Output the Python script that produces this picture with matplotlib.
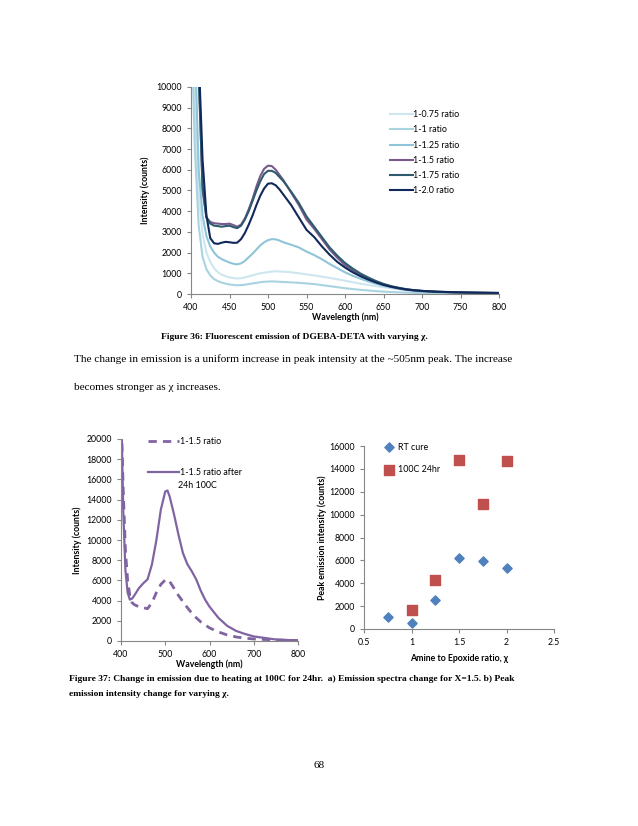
import matplotlib
matplotlib.use("Agg")
import matplotlib.pyplot as plt

# ---- Figure 36 spectra (wavelength nm, counts)
wl1 = [400, 405, 410, 415, 420, 425, 430, 435, 440, 445, 450, 455, 460, 465,
       470, 475, 480, 485, 490, 495, 500, 505, 510, 515, 520, 530, 540, 550,
       560, 570, 580, 590, 600, 610, 620, 630, 640, 650, 660, 670, 680, 690,
       700, 720, 740, 760, 780, 800]
r075 = [16000, 9000, 4800, 2900, 2000, 1550, 1250, 1050, 930, 860, 800, 770,
        750, 760, 800, 850, 900, 960, 1000, 1030, 1060, 1080, 1100, 1090, 1080,
        1050, 1000, 950, 900, 840, 780, 710, 640, 570, 500, 440, 380, 330, 280,
        230, 190, 160, 130, 100, 80, 60, 45, 35]
r100 = [14000, 7000, 3300, 1800, 1200, 900, 720, 620, 550, 500, 460, 440, 420,
        430, 450, 480, 510, 540, 570, 590, 600, 610, 600, 590, 580, 560, 540,
        510, 480, 430, 380, 330, 280, 240, 200, 170, 140, 115, 95, 80, 65, 55,
        45, 35, 30, 25, 20, 20]
r125 = [22000, 12000, 6000, 3800, 2800, 2300, 2000, 1800, 1680, 1600, 1520,
        1460, 1430, 1480, 1600, 1780, 1950, 2150, 2350, 2500, 2600, 2650, 2640,
        2580, 2500, 2380, 2250, 2050, 1880, 1680, 1450, 1250, 1050, 880, 740,
        610, 500, 400, 320, 250, 190, 150, 120, 85, 65, 50, 40, 30]
r150 = [60000, 25000, 11000, 5000, 3700, 3480, 3420, 3400, 3380, 3380, 3400,
        3330, 3250, 3350, 3650, 4100, 4600, 5200, 5700, 6050, 6200, 6180, 6000,
        5750, 5500, 4900, 4300, 3600, 3150, 2650, 2150, 1750, 1400, 1150, 920,
        740, 580, 450, 350, 270, 210, 170, 140, 100, 80, 65, 55, 45]
r175 = [55000, 24000, 10500, 5200, 3700, 3400, 3300, 3280, 3250, 3280, 3300,
        3230, 3180, 3300, 3600, 4000, 4500, 5000, 5450, 5800, 5950, 5950, 5850,
        5650, 5450, 4950, 4400, 3750, 3250, 2750, 2250, 1850, 1500, 1230, 990,
        800, 630, 490, 380, 300, 230, 185, 150, 110, 85, 70, 60, 50]
r200 = [60000, 25000, 11500, 6500, 3800, 2700, 2450, 2420, 2480, 2520, 2500,
        2470, 2480, 2650, 2950, 3350, 3800, 4300, 4750, 5100, 5330, 5350, 5250,
        5050, 4800, 4300, 3700, 3100, 2750, 2300, 1900, 1550, 1280, 1050, 860,
        700, 560, 440, 350, 280, 220, 180, 150, 110, 90, 70, 60, 50]
labels1 = ["1-0.75 ratio", "1-1 ratio", "1-1.25 ratio", "1-1.5 ratio",
           "1-1.75 ratio", "1-2.0 ratio"]
colors1 = ["#cde6ef", "#a9d3e0", "#8ec5d8", "#7a5a8e", "#2e5c6c", "#10295a"]

# ---- Figure 37a spectra before / after heating
wl2 = [400, 402, 405, 410, 415, 420, 425, 430, 440, 450, 460, 470, 480, 490,
       500, 505, 510, 520, 530, 540, 550, 560, 570, 580, 590, 600, 620, 640,
       660, 680, 700, 750, 800]
before = [21000, 19800, 15000, 9000, 6000, 4500, 3800, 3600, 3400, 3300, 3200,
          3800, 4800, 5600, 6050, 6100, 5900, 5200, 4500, 3900, 3300, 2750,
          2300, 1900, 1600, 1300, 900, 600, 400, 280, 200, 100, 50]
after = [21000, 19800, 13000, 7000, 4800, 4100, 4200, 4500, 5200, 5700, 6100,
         7600, 10000, 13000, 14800, 14900, 14300, 12500, 10500, 8700, 7600,
         6900, 6100, 5000, 4100, 3400, 2300, 1500, 1000, 700, 450, 150, 50]
legend2 = ["1-1.5 ratio", "1-1.5 ratio after"]
legend2_extra = "24h 100C"

# ---- Figure 37b peak intensity vs ratio
chi_rt = [0.75, 1.0, 1.25, 1.5, 1.75, 2.0]
peak_rt = [1050, 550, 2550, 6200, 5950, 5300]
chi_hot = [1.0, 1.25, 1.5, 1.75, 2.0]
peak_hot = [1700, 4300, 14800, 10900, 14700]

W, H = 638, 826
SANS = ["Lato", "DejaVu Sans"]
SERIF = ["Liberation Serif", "DejaVu Serif"]
GREY = "#868686"
TICK_FS = 6.3
LAB_FS = 6.3
LEG_FS = 6.4


def px_axes(fig, l, t, r, b):
    return fig.add_axes([l / W, 1 - b / H, (r - l) / W, (b - t) / H])


def excel_style(ax):
    for s in ("top", "right"):
        ax.spines[s].set_visible(False)
    for s in ("left", "bottom"):
        ax.spines[s].set_color(GREY)
        ax.spines[s].set_linewidth(0.8)
    ax.tick_params(direction="out", length=3, width=0.8, color=GREY,
                   labelsize=TICK_FS, pad=3.5)
    for lab in ax.get_xticklabels() + ax.get_yticklabels():
        lab.set_family(SANS)


fig = plt.figure(figsize=(W / 100, H / 100), dpi=100)

# ---------------- Figure 36
ax1 = px_axes(fig, 191, 87, 499, 294)
for y, lab, c in zip([r075, r100, r125, r150, r175, r200], labels1, colors1):
    ax1.plot(wl1, y, color=c, lw=1.5, label=lab)
ax1.set_xlim(400, 800)
ax1.set_ylim(0, 10000)
ax1.set_xticks(range(400, 801, 50))
ax1.set_yticks(range(0, 10001, 1000))
excel_style(ax1)
ax1.set_xlabel("Wavelength (nm)", fontsize=LAB_FS, fontweight="bold",
               family=SANS, labelpad=0.5)
ax1.set_ylabel("Intensity (counts)", fontsize=LAB_FS, fontweight="bold",
               family=SANS, labelpad=4.5)
ax1.legend(loc="upper left", bbox_to_anchor=(0.645, 0.888), frameon=False,
           prop={"family": SANS, "size": LEG_FS}, handlelength=2.6,
           handletextpad=0.05, labelspacing=0.7, borderaxespad=0,
           borderpad=0)

# ---------------- Figure 37a
ax2 = px_axes(fig, 121, 439, 298, 641)
ax2.plot(wl2, before, color="#8064a2", lw=2.0, ls=(0, (3, 2.2)),
         label=legend2[0])
ax2.plot(wl2, after, color="#8064a2", lw=1.6, label=legend2[1])
ax2.set_xlim(400, 800)
ax2.set_ylim(0, 20000)
ax2.set_xticks(range(400, 801, 100))
ax2.set_yticks(range(0, 20001, 2000))
excel_style(ax2)
ax2.set_xlabel("Wavelength (nm)", fontsize=LAB_FS, fontweight="bold",
               family=SANS, labelpad=0.2)
ax2.set_ylabel("Intensity (counts)", fontsize=LAB_FS, fontweight="bold",
               family=SANS, labelpad=3)
ax2.legend(loc="upper left", bbox_to_anchor=(0.155, 1.01),
           frameon=False, prop={"family": SANS, "size": LEG_FS},
           handlelength=3.4, handletextpad=0.15, labelspacing=2.5,
           borderaxespad=0, borderpad=0)
ax2.text((178 - 121) / 177, (641 - 485) / 202, legend2_extra,
         transform=ax2.transAxes, ha="left", va="center", fontsize=LEG_FS,
         family=SANS)

# ---------------- Figure 37b
ax3 = px_axes(fig, 364, 446, 554, 629)
ax3.scatter(chi_rt, peak_rt, marker="D", s=22, color="#4f81bd",
            label="RT cure", zorder=3)
ax3.scatter(chi_hot, peak_hot, marker="s", s=42, color="#c0504d",
            label="100C 24hr", zorder=3)
ax3.set_xlim(0.5, 2.5)
ax3.set_ylim(0, 16000)
ax3.set_xticks([0.5, 1, 1.5, 2, 2.5])
ax3.set_xticklabels(["0.5", "1", "1.5", "2", "2.5"])
ax3.set_yticks(range(0, 16001, 2000))
excel_style(ax3)
ax3.set_xlabel("Amine to Epoxide ratio, χ", fontsize=LAB_FS,
               fontweight="bold", family=SANS, labelpad=5)
ax3.set_ylabel("Peak emission intensity (counts)", fontsize=LAB_FS,
               fontweight="bold", family=SANS, labelpad=2)
ax3.legend(loc="upper left", bbox_to_anchor=(0.085, 1.018), frameon=False,
           prop={"family": SANS, "size": LEG_FS}, handletextpad=0.0,
           labelspacing=1.55, borderaxespad=0, borderpad=0, scatterpoints=1)

# ---------------- page text
fig.text(294 / W, 1 - 337 / H,
         "Figure 36: Fluorescent emission of DGEBA-DETA with varying χ.",
         ha="center", va="center", fontsize=6.8, fontweight="bold",
         family=SERIF)
fig.text(74 / W, 1 - 359 / H,
         "The change in emission is a uniform increase in peak intensity at "
         "the ~505nm peak. The increase",
         ha="left", va="center", fontsize=8.15, family=SERIF)
fig.text(74 / W, 1 - 388 / H, "becomes stronger as χ increases.",
         ha="left", va="center", fontsize=8.15, family=SERIF)
fig.text(69 / W, 1 - 679 / H,
         "Figure 37: Change in emission due to heating at 100C for 24hr.  "
         "a) Emission spectra change for X=1.5. b) Peak",
         ha="left", va="center", fontsize=6.8, fontweight="bold",
         family=SERIF)
fig.text(69 / W, 1 - 694 / H, "emission intensity change for varying χ.",
         ha="left", va="center", fontsize=6.8, fontweight="bold",
         family=SERIF)
fig.text(319 / W, 1 - 766 / H, "68", ha="center", va="center",
         fontsize=8.15, family=SERIF)

fig.savefig("out.png", dpi=100)
